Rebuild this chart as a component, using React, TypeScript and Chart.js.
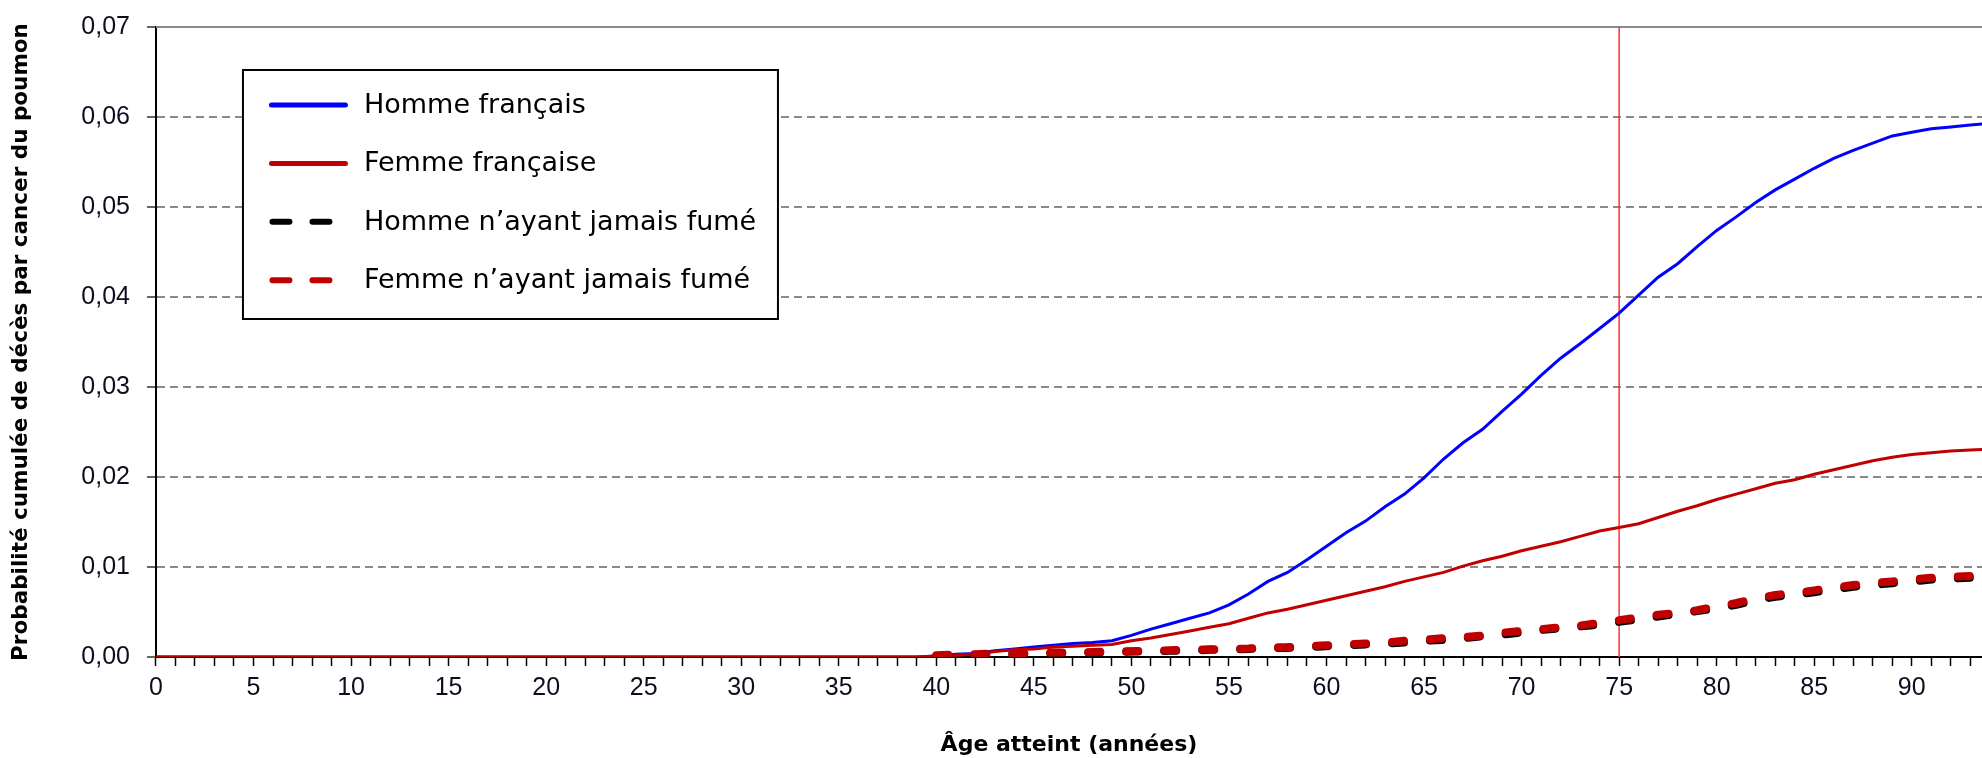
import React, { useEffect, useRef } from 'react';
import { Chart, registerables } from 'chart.js';

Chart.register(...registerables);

// ---- Data ----
const AGES: number[] = Array.from({ length: 95 }, (_, i) => i);

const HOMME_FR: (number | null)[] = [
  0, 0, 0, 0, 0, 0, 0, 0, 0, 0,
  0, 0, 0, 0, 0, 0, 0, 0, 0, 0,
  0, 0, 0, 0, 0, 0, 0, 0, 0, 0,
  0, 0, 0, 0, 0, 0, 0, 0, 0, 0,
  0.0001, 0.0003, 0.0004, 0.0007, 0.0009, 0.0011, 0.0013, 0.0015, 0.0016, 0.0018,
  0.0024, 0.0031, 0.0037, 0.0043, 0.0049, 0.0058, 0.0070, 0.0084, 0.0094, 0.0108,
  0.0123, 0.0138, 0.0151, 0.0167, 0.0181, 0.0199, 0.0220, 0.0238, 0.0253, 0.0273,
  0.0292, 0.0313, 0.0332, 0.0348, 0.0365, 0.0382, 0.0402, 0.0422, 0.0437, 0.0456,
  0.0474, 0.0489, 0.0505, 0.0519, 0.0531, 0.0543, 0.0554, 0.0563, 0.0571, 0.0579,
  0.0583, 0.0587, 0.0589, 0.0591, 0.0593,
];

const FEMME_FR: (number | null)[] = [
  0, 0, 0, 0, 0, 0, 0, 0, 0, 0,
  0, 0, 0, 0, 0, 0, 0, 0, 0, 0,
  0, 0, 0, 0, 0, 0, 0, 0, 0, 0,
  0, 0, 0, 0, 0, 0, 0, 0, 0, 0,
  0.0001, 0.0002, 0.0003, 0.0006, 0.0008, 0.0009, 0.0011, 0.0012, 0.0013, 0.0014,
  0.0018, 0.0021, 0.0025, 0.0029, 0.0033, 0.0037, 0.0043, 0.0049, 0.0053, 0.0058,
  0.0063, 0.0068, 0.0073, 0.0078, 0.0084, 0.0089, 0.0094, 0.0101, 0.0107, 0.0112,
  0.0118, 0.0123, 0.0128, 0.0134, 0.0140, 0.0144, 0.0148, 0.0155, 0.0162, 0.0168,
  0.0175, 0.0181, 0.0187, 0.0193, 0.0197, 0.0203, 0.0208, 0.0213, 0.0218, 0.0222,
  0.0225, 0.0227, 0.0229, 0.0230, 0.0231,
];

const HOMME_JAMAIS: (number | null)[] = [
  null, null, null, null, null, null, null, null, null, null,
  null, null, null, null, null, null, null, null, null, null,
  null, null, null, null, null, null, null, null, null, null,
  null, null, null, null, null, null, null, null, null, null,
  0.0001, 0.0002, 0.0002, 0.0003, 0.0003, 0.0004, 0.0004, 0.0005, 0.0005, 0.0005,
  0.0006, 0.0006, 0.0007, 0.0007, 0.0008, 0.0008, 0.0009, 0.0010, 0.0010, 0.0011,
  0.0012, 0.0013, 0.0014, 0.0015, 0.0016, 0.0018, 0.0019, 0.0021, 0.0023, 0.0025,
  0.0027, 0.0030, 0.0032, 0.0034, 0.0036, 0.0039, 0.0042, 0.0045, 0.0048, 0.0051,
  0.0054, 0.0058, 0.0063, 0.0067, 0.0069, 0.0072, 0.0075, 0.0078, 0.0080, 0.0082,
  0.0084, 0.0086, 0.0087, 0.0088, 0.0089,
];

const FEMME_JAMAIS: (number | null)[] = [
  null, null, null, null, null, null, null, null, null, null,
  null, null, null, null, null, null, null, null, null, null,
  null, null, null, null, null, null, null, null, null, null,
  null, null, null, null, null, null, null, null, null, null,
  0.0002, 0.0003, 0.0003, 0.0004, 0.0004, 0.00045, 0.0005, 0.0005, 0.00055, 0.0006,
  0.00065, 0.0007, 0.00075, 0.0008, 0.00085, 0.0009, 0.00095, 0.00105, 0.0011, 0.0012,
  0.0013, 0.0014, 0.0015, 0.0016, 0.0018, 0.0019, 0.0021, 0.0022, 0.0024, 0.0027,
  0.0029, 0.0031, 0.0033, 0.0035, 0.0038, 0.0041, 0.0044, 0.0047, 0.0049, 0.0052,
  0.0056, 0.0060, 0.0065, 0.0069, 0.0071, 0.0074, 0.0077, 0.0080, 0.0082, 0.0084,
  0.0086, 0.0088, 0.0089, 0.0090, 0.0091,
];

const SERIES_LABELS = [
  'Homme français',
  'Femme française',
  'Homme n’ayant jamais fumé',
  'Femme n’ayant jamais fumé',
];

const X_MIN = 0;
const X_MAX = 93.6;
const X_LABEL_STEP = 5;
const Y_MIN = 0;
const Y_MAX = 0.07;
const Y_STEP = 0.01;
const REFERENCE_AGE = 75;

const X_TITLE = 'Âge atteint (années)';
const Y_TITLE = 'Probabilité cumulée de décès par cancer du poumon';

const FONT = '"DejaVu Sans", Verdana, sans-serif';
const TICK_FONT = '"Liberation Sans", Arial, sans-serif';

// ---- Plugins ----
const decorPlugin = {
  id: 'decor',
  beforeDatasetsDraw(chart: any) {
    const { ctx, chartArea } = chart;
    ctx.save();
    ctx.strokeStyle = '#8a8a8a';
    ctx.lineWidth = 2;
    ctx.beginPath();
    ctx.moveTo(chartArea.left, chartArea.top);
    ctx.lineTo(chartArea.right, chartArea.top);
    ctx.stroke();
    const x = chart.scales.x.getPixelForValue(REFERENCE_AGE);
    ctx.strokeStyle = '#ff3030';
    ctx.lineWidth = 1.5;
    ctx.beginPath();
    ctx.moveTo(x, chartArea.top);
    ctx.lineTo(x, chartArea.bottom);
    ctx.stroke();
    ctx.restore();
  },
};

const legendPlugin = {
  id: 'floatingLegend',
  afterDraw(chart: any) {
    const { ctx, chartArea } = chart;
    const x0 = chartArea.left + 87;
    const y0 = chartArea.top + 43;
    const w = 535;
    const h = 249;
    ctx.save();
    ctx.fillStyle = '#ffffff';
    ctx.fillRect(x0, y0, w, h);
    ctx.lineWidth = 2;
    ctx.strokeStyle = '#000000';
    ctx.strokeRect(x0, y0, w, h);
    ctx.font = '27px ' + FONT;
    ctx.textBaseline = 'middle';
    ctx.textAlign = 'left';
    chart.data.datasets.forEach((ds: any, i: number) => {
      const cy = y0 + 35 + i * 58.4;
      ctx.beginPath();
      ctx.lineCap = 'round';
      ctx.strokeStyle = ds.borderColor;
      if (ds.borderDash && ds.borderDash.length) {
        ctx.lineWidth = 6;
        ctx.setLineDash([17, 23]);
        ctx.moveTo(x0 + 29.5, cy);
        ctx.lineTo(x0 + 88, cy);
      } else {
        ctx.lineWidth = 5;
        ctx.setLineDash([]);
        ctx.moveTo(x0 + 28.5, cy);
        ctx.lineTo(x0 + 102.5, cy);
      }
      ctx.stroke();
      ctx.setLineDash([]);
      ctx.fillStyle = '#000000';
      ctx.fillText(ds.label, x0 + 121, cy + 1);
    });
    ctx.restore();
  },
};

export default function App() {
  const canvasRef = useRef<HTMLCanvasElement | null>(null);

  useEffect(() => {
    if (!canvasRef.current) return;
    const chart = new Chart(canvasRef.current, {
      type: 'line',
      data: {
        labels: AGES,
        datasets: [
          {
            label: SERIES_LABELS[0],
            data: HOMME_FR,
            borderColor: '#0000ff',
            borderWidth: 3,
            pointRadius: 0,
            tension: 0,
            order: 4,
          },
          {
            label: SERIES_LABELS[1],
            data: FEMME_FR,
            borderColor: '#c00000',
            borderWidth: 3,
            pointRadius: 0,
            tension: 0,
            order: 3,
          },
          {
            label: SERIES_LABELS[2],
            data: HOMME_JAMAIS,
            borderColor: '#000000',
            borderWidth: 8,
            borderDash: [12, 26],
            borderCapStyle: 'round',
            pointRadius: 0,
            tension: 0,
            order: 2,
          },
          {
            label: SERIES_LABELS[3],
            data: FEMME_JAMAIS,
            borderColor: '#c00000',
            borderWidth: 8,
            borderDash: [12, 26],
            borderCapStyle: 'round',
            pointRadius: 0,
            tension: 0,
            order: 1,
          },
        ] as any,
      },
      options: {
        animation: false,
        responsive: false,
        layout: { padding: { top: 27, right: 0, bottom: 0, left: 0 } },
        plugins: {
          legend: { display: false },
          tooltip: { enabled: false },
        },
        scales: {
          x: {
            type: 'linear',
            min: X_MIN,
            max: X_MAX,
            grid: {
              drawOnChartArea: false,
              drawTicks: true,
              tickLength: 9,
              tickColor: '#000000',
              tickWidth: 1.5,
            },
            border: { display: true, color: '#000000', width: 2 },
            ticks: {
              stepSize: 1,
              autoSkip: false,
              maxRotation: 0,
              minRotation: 0,
              includeBounds: false,
              padding: 7,
              color: '#0d0d20',
              font: { family: TICK_FONT, size: 25 },
              callback: (v: any) => {
                const n = Math.round(Number(v));
                return n % X_LABEL_STEP === 0 ? String(n) : '';
              },
            },
            title: {
              display: true,
              text: X_TITLE,
              color: '#000000',
              font: { family: FONT, size: 22, weight: 'bold' },
              padding: { top: 21.6, bottom: 0 },
            },
          },
          y: {
            type: 'linear',
            min: Y_MIN,
            max: Y_MAX,
            grid: {
              drawOnChartArea: true,
              color: '#8a8a8a',
              lineWidth: 2,
              drawTicks: true,
              tickLength: 9,
              tickColor: '#333333',
              tickWidth: 1.5,
            },
            border: { display: true, color: '#000000', width: 2, dash: [8, 5] },
            ticks: {
              stepSize: Y_STEP,
              padding: 17,
              color: '#0d0d20',
              font: { family: TICK_FONT, size: 25, lineHeight: 0.6 },
              callback: (v: any) => Number(v).toFixed(2).replace('.', ','),
            },
            title: {
              display: true,
              text: Y_TITLE,
              color: '#000000',
              font: { family: FONT, size: 21.5, weight: 'bold' },
              padding: { top: 9, bottom: 29.5 },
            },
          },
        },
      } as any,
      plugins: [decorPlugin, legendPlugin],
    });
    return () => chart.destroy();
  }, []);

  return (
    <div style={{ position: 'absolute', left: 0, top: 0, width: 1982, height: 758, background: '#ffffff' }}>
      <canvas ref={canvasRef} width={1982} height={758} style={{ display: 'block' }} />
    </div>
  );
}
